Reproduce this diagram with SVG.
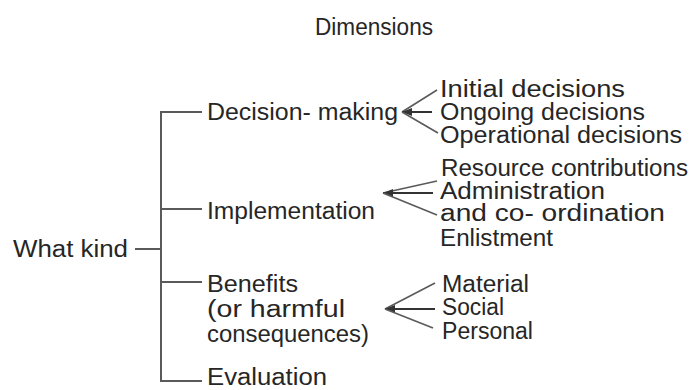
<svg xmlns="http://www.w3.org/2000/svg" width="694" height="390" viewBox="0 0 694 390">
  <style>
    text { font-family: "Liberation Sans", Arial, sans-serif; font-size: 23px; fill: #262626; }
    .title { font-size: 23px; }
    .br { stroke: #5a5a5a; stroke-width: 2; fill: none; }
    .fan { stroke: #5a5a5a; stroke-width: 1.6; fill: none; }
    .shaft { stroke: #333; stroke-width: 2; fill: none; }
  </style>
  <defs>
    <marker id="ah" viewBox="0 0 10 8" refX="10" refY="4" markerWidth="10" markerHeight="8" markerUnits="userSpaceOnUse" orient="auto">
      <path d="M0,0 L10,4 L0,8 z" fill="#333"/>
    </marker>
  </defs>

  <g id="title">
    <text class="title" x="315" y="35" textLength="118" lengthAdjust="spacingAndGlyphs">Dimensions</text>
  </g>

  <g id="connectors">
    <path class="br" d="M202,112 H161 V381 H202"/>
    <line class="br" x1="161" y1="209" x2="202" y2="209"/>
    <line class="br" x1="161" y1="282" x2="202" y2="282"/>
    <line class="br" x1="135" y1="249" x2="161" y2="249"/>
    <!-- decision-making fan -->
    <line class="fan" x1="402" y1="112" x2="437" y2="90"/>
    <line class="shaft" x1="432" y1="112" x2="402" y2="112" marker-end="url(#ah)"/>
    <line class="fan" x1="402" y1="112" x2="438" y2="133"/>
    <!-- implementation fan -->
    <line class="fan" x1="383" y1="193" x2="437" y2="181"/>
    <line class="shaft" x1="433" y1="193" x2="383" y2="193" marker-end="url(#ah)"/>
    <line class="fan" x1="383" y1="193" x2="437" y2="215"/>
    <!-- benefits fan -->
    <line class="fan" x1="385" y1="309" x2="435" y2="283"/>
    <line class="shaft" x1="435" y1="309" x2="385" y2="309" marker-end="url(#ah)"/>
    <line class="fan" x1="385" y1="309" x2="433" y2="328"/>
  </g>

  <g id="what-kind">
    <text x="13" y="257" textLength="115" lengthAdjust="spacingAndGlyphs">What kind</text>
  </g>

  <g id="decision-making">
    <text x="207" y="120" textLength="191" lengthAdjust="spacingAndGlyphs">Decision- making</text>
  </g>
  <g id="implementation">
    <text x="207" y="219" textLength="168" lengthAdjust="spacingAndGlyphs">Implementation</text>
  </g>
  <g id="benefits">
    <text x="207" y="292" textLength="91" lengthAdjust="spacingAndGlyphs">Benefits</text>
    <text x="207" y="317" textLength="138" lengthAdjust="spacingAndGlyphs">(or harmful</text>
    <text x="207" y="342" textLength="162" lengthAdjust="spacingAndGlyphs">consequences)</text>
  </g>
  <g id="evaluation">
    <text x="207" y="385" textLength="120" lengthAdjust="spacingAndGlyphs">Evaluation</text>
  </g>

  <g id="initial-decisions"><text x="440" y="97" textLength="185" lengthAdjust="spacingAndGlyphs">Initial decisions</text></g>
  <g id="ongoing-decisions"><text x="440" y="120" textLength="205" lengthAdjust="spacingAndGlyphs">Ongoing decisions</text></g>
  <g id="operational-decisions"><text x="440" y="143" textLength="242" lengthAdjust="spacingAndGlyphs">Operational decisions</text></g>

  <g id="resource-contributions"><text x="441" y="176" textLength="247" lengthAdjust="spacingAndGlyphs">Resource contributions</text></g>
  <g id="administration">
    <text x="440" y="199" textLength="165" lengthAdjust="spacingAndGlyphs">Administration</text>
    <text x="440" y="221" textLength="225" lengthAdjust="spacingAndGlyphs">and co- ordination</text>
  </g>
  <g id="enlistment"><text x="440" y="246" textLength="113" lengthAdjust="spacingAndGlyphs">Enlistment</text></g>

  <g id="material"><text x="442" y="292" textLength="87" lengthAdjust="spacingAndGlyphs">Material</text></g>
  <g id="social"><text x="442" y="315" textLength="62" lengthAdjust="spacingAndGlyphs">Social</text></g>
  <g id="personal"><text x="442" y="339" textLength="91" lengthAdjust="spacingAndGlyphs">Personal</text></g>
</svg>
